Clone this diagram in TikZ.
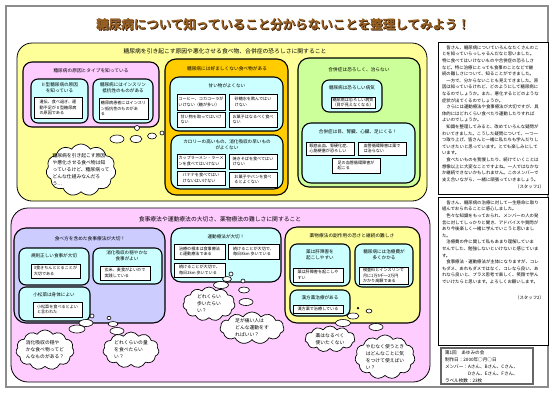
\documentclass[tikz,border=0pt]{standalone}
\usepackage{fontspec}
\setmainfont{Noto Sans CJK JP}
\newfontfamily\titlefont[FakeBold=3.5]{Noto Sans CJK JP}
\usetikzlibrary{shapes.symbols,shapes.geometric,shadows}
\definecolor{ylw}{RGB}{255,255,153}
\definecolor{pnk}{RGB}{255,204,255}
\definecolor{org}{RGB}{255,204,0}
\definecolor{grn}{RGB}{204,255,153}
\definecolor{cyn}{RGB}{204,255,255}
\definecolor{lav}{RGB}{204,204,255}
\definecolor{ttl}{RGB}{150,95,35}
\definecolor{ttlsh}{RGB}{55,28,5}
\newcommand\myfs[2]{\fontsize{#1}{#2}\selectfont}
\begin{document}
\begin{tikzpicture}[x=1pt,y=-1pt,
  base/.style={inner sep=0pt, outer sep=0pt},
  frame/.style={base, draw=black!45, line width=1.3pt, anchor=north west},
  region/.style={base, draw=black, line width=0.8pt, rounded corners=15pt, anchor=north west},
  grp/.style={base, draw=black, line width=1.1pt, rounded corners=9pt, anchor=north west},
  cbox/.style={grp, fill=cyn, rounded corners=7pt},
  wbox/.style={base, draw=black, line width=0.9pt, fill=white, anchor=north west,
     font=\myfs{4.1}{5.3}, align=left,
     drop shadow={shadow xshift=0.7pt, shadow yshift=-0.7pt, fill=black!45}},
  rtitle/.style={base, font=\myfs{5.8}{7}},
  gtitle/.style={base, font=\myfs{4.7}{6}},
  ctitle/.style={base, font=\myfs{4.6}{6.2}, align=center},
  cld/.style={base, cloud, cloud puffs=11, cloud puff arc=115, cloud ignores aspect,
     draw=black, fill=white, line width=0.7pt},
  ktext/.style={base, font=\myfs{4.8}{7}, align=left},
  bub/.style={base, ellipse, draw=black, fill=white, line width=0.6pt},
  rbox/.style={base, draw=black, line width=1pt, fill=white, anchor=north west},
  rtext/.style={base, font=\myfs{4.4}{6.6}, align=left, anchor=north west}
]
\useasboundingbox (0,0) rectangle (551,392);
\fill[white] (0,0) rectangle (551,392);
\node[frame, minimum width=542, minimum height=381] (frm) at (6,6) {};

% title
\node[base, font=\titlefont\myfs{12.5}{14}, text=ttlsh] (titleS) at (283.8,24.8) {糖尿病について知っていること分からないことを整理してみよう！};
\node[base, font=\titlefont\myfs{12.5}{14}, text=ttl] (title) at (283,24) {糖尿病について知っていること分からないことを整理してみよう！};

% ===== top region =====
\node[region, fill=ylw, minimum width=410, minimum height=158] (topR) at (17,43) {};
\node[rtitle] (topT) at (225,51) {糖尿病を引き起こす原因や悪化させる食べ物、合併症の恐ろしさに関すること};

% group A
\node[grp, fill=pnk, minimum width=136, minimum height=65] (gA) at (23,62) {};
\node[gtitle] (gAt) at (91,71) {糖尿病の原因とタイプを知っている};
\node[cbox, minimum width=57, minimum height=44] (cA1) at (31,79) {};
\node[ctitle] (cA1t) at (59.5,88) {Ⅱ型糖尿病の原因\\を知っている};
\node[wbox, minimum width=48, minimum height=21] (wA1) at (34,97) {遺伝、食べ過ぎ、運\\動不足がⅡ型糖尿病\\の原因である};
\node[cbox, minimum width=60, minimum height=44] (cA2) at (93,79) {};
\node[ctitle] (cA2t) at (123,88) {糖尿病にはインスリン\\抵抗性のものがある};
\node[wbox, minimum width=49, minimum height=21] (wA2) at (99,98) {糖尿病患者にはインスリ\\ン抵抗性のものがあ\\る};

% group B
\node[grp, fill=org, minimum width=123, minimum height=136, rounded corners=11pt] (gB) at (165,59) {};
\node[gtitle] (gBt) at (227,69) {糖尿病には好ましくない食べ物がある};
\node[cbox, minimum width=113, minimum height=54, rounded corners=9pt] (cB1) at (170,77) {};
\node[ctitle] (cB1t) at (227,86) {甘い物がよくない};
\node[wbox, minimum width=48, minimum height=16] (wB1) at (177,94) {コーヒー、コカコーラが\\いけない（糖が多い）};
\node[wbox, minimum width=48, minimum height=16] (wB2) at (229,94) {砂糖水を飲んではい\\けない};
\node[wbox, minimum width=48, minimum height=15] (wB3) at (177,112) {甘い物を取ってはいけ\\ない};
\node[wbox, minimum width=48, minimum height=15] (wB4) at (229,112) {お菓子はなるべく食べ\\ない};
\node[cbox, minimum width=112, minimum height=54, rounded corners=9pt] (cB2) at (171,135) {};
\node[ctitle] (cB2t) at (227,145) {カロリーの高いもの、消化吸収の早いもの\\がよくない};
\node[wbox, minimum width=48, minimum height=14] (wB5) at (177,154) {カップラーメン・ラーメ\\ンを食べてはいけない};
\node[wbox, minimum width=48, minimum height=15] (wB6) at (229,154) {焼きそばを食べてはい\\けない};
\node[wbox, minimum width=48, minimum height=14] (wB7) at (177,171) {バナナを食べてはい\\けないはいけない};
\node[wbox, minimum width=48, minimum height=15] (wB8) at (229,172) {お菓子やパンを食べ\\るとよくない};

% group C
\node[grp, fill=grn, minimum width=122, minimum height=129, rounded corners=11pt] (gC) at (298,58) {};
\node[gtitle] (gCt) at (359,70) {合併症は恐ろしく、治らない};
\node[cbox, minimum width=60, minimum height=32] (cC1) at (322,80) {};
\node[ctitle] (cC1t) at (352,88) {糖尿病は恐ろしい病気};
\node[wbox, minimum width=44, minimum height=11] (wC1) at (331,97) {糖尿病は恐ろしい病気\\（目が見えなくなる）};
\node[cbox, minimum width=113, minimum height=60, rounded corners=9pt] (cC2) at (302,123) {};
\node[ctitle] (cC2t) at (358,132) {合併症は目、腎臓、心臓、足にくる！};
\node[wbox, minimum width=48, minimum height=13] (wC2) at (306,142) {眼底出血、腎硬化症、\\心筋梗塞が恐ろしい};
\node[wbox, minimum width=48, minimum height=13] (wC3) at (358,142) {血管循環障害は薬で\\は治らない};
\node[wbox, minimum width=48, minimum height=15] (wC4) at (332,158) {足の血管循環障害が\\起こる};

% top thought cloud
\node[bub, minimum width=5, minimum height=5] (tb1) at (137,128) {};
\node[bub, minimum width=4, minimum height=4] (tb2) at (162,133) {};
\node[bub, minimum width=9, minimum height=6] (tb3) at (152,136) {};
\node[bub, minimum width=12, minimum height=7] (tb4) at (136,139) {};
\node[bub, minimum width=14, minimum height=8] (tb5) at (117,139) {};
\node[cld, minimum width=70, minimum height=52] (k1) at (81,170) {};
\node[ktext] (k1t) at (81,170) {糖尿病を引き起こす原因\\や悪化させる食べ物は知\\っているけど、糖尿病って\\どんな仕組みなんだろ\\う…};

% ===== bottom region =====
\node[region, fill=pnk, minimum width=419, minimum height=174, rounded corners=17pt] (botR) at (11,208) {};
\node[rtitle] (botT) at (220,219) {食事療法や運動療法の大切さ、薬物療法の難しさに関すること};

% group D
\node[grp, fill=lav, minimum width=151, minimum height=95, rounded corners=12pt] (gD) at (14,228) {};
\node[gtitle] (gDt) at (90,239) {食べ方を含めた食事療法が大切！};
\node[cbox, minimum width=70, minimum height=37] (cD1) at (19,248) {};
\node[ctitle] (cD1t) at (54,256) {規則正しい食事が大切};
\node[wbox, minimum width=49, minimum height=14] (wD1) at (31,264) {3食きちんととることが\\大切である};
\node[cbox, minimum width=69, minimum height=36] (cD2) at (93,248) {};
\node[ctitle] (cD2t) at (127,256) {消化吸収の穏やかな\\食事がよい};
\node[wbox, minimum width=50, minimum height=14] (wD2) at (100,266) {玄米、麦食がよいので\\実践している};
\node[cbox, minimum width=71, minimum height=34] (cD3) at (19,287) {};
\node[ctitle] (cD3t) at (54,295) {小松菜は身体によい};
\node[wbox, minimum width=49, minimum height=15] (wD3) at (33,302) {小松菜を食べるとよい\\と言われた};

\node[bub, minimum width=4, minimum height=4] (db1) at (92,316) {};
\node[bub, minimum width=14, minimum height=7] (db2) at (86,323) {};
\node[bub, minimum width=16, minimum height=8] (db3) at (77,329) {};
\node[bub, minimum width=4, minimum height=3.5] (db4) at (109,318) {};
\node[bub, minimum width=10, minimum height=5] (db5) at (113,324) {};
\node[bub, minimum width=14, minimum height=7] (db6) at (117,331) {};
\node[cld, minimum width=58, minimum height=40] (k2) at (45,350) {};
\node[ktext] (k2t) at (45,350) {消化吸収の穏や\\かな食べ物ってど\\んなものがある？};
\node[cld, minimum width=56, minimum height=36] (k3) at (131,350) {};
\node[ktext] (k3t) at (131,350) {どれくらいの量\\を食べたらい\\い？};

% group E
\node[cbox, minimum width=110, minimum height=54, rounded corners=10pt] (cE) at (171,228) {};
\node[ctitle] (cEt) at (226,237) {運動療法が大切！};
\node[wbox, minimum width=51, minimum height=15] (wE1) at (174,244) {治療の根本は食事療法\\と運動療法である};
\node[wbox, minimum width=51, minimum height=15] (wE2) at (228,244) {続けることが大切で、\\毎日8km 歩いている};
\node[wbox, minimum width=51, minimum height=14] (wE3) at (174,263) {続けることが大切で、\\毎日2km 歩いている};

\node[bub, minimum width=4, minimum height=4] (eb1) at (231,274) {};
\node[bub, minimum width=9, minimum height=5] (eb2) at (227,279) {};
\node[bub, minimum width=15, minimum height=7] (eb3) at (221,285) {};
\node[bub, minimum width=4, minimum height=4] (eb4) at (243,281) {};
\node[bub, minimum width=11, minimum height=6] (eb5) at (244,290) {};
\node[bub, minimum width=14, minimum height=7] (eb6) at (246,302) {};
\node[cld, minimum width=52, minimum height=34] (k4) at (209,304) {};
\node[ktext] (k4t) at (209,304) {どれくらい\\歩いたらい\\い？};
\node[cld, minimum width=64, minimum height=32] (k5) at (252,328) {};
\node[ktext] (k5t) at (252,328) {足が痛い人は\\どんな運動をす\\ればいい？};

% group F
\node[grp, fill=ylw, minimum width=135, minimum height=96, rounded corners=12pt] (gF) at (285,227) {};
\node[gtitle] (gFt) at (352,236) {薬物療法の副作用の恐さと継続の難しさ};
\node[cbox, minimum width=60, minimum height=42] (cF1) at (290,244) {};
\node[ctitle] (cF1t) at (320,255) {薬は肝障害を\\起こしやすい};
\node[wbox, minimum width=50, minimum height=14] (wF1) at (293,268) {薬は肝障害を起こしや\\すい};
\node[cbox, minimum width=58, minimum height=43] (cF2) at (355,244) {};
\node[ctitle] (cF2t) at (384,255) {糖尿病には治療費が\\多くかかる};
\node[wbox, minimum width=49, minimum height=17] (wF2) at (359,267) {検査料とインスリンで\\月に1万5千～2万円\\かかり高額である};
\node[cbox, minimum width=60, minimum height=26] (cF3) at (290,290) {};
\node[ctitle] (cF3t) at (320,298) {漢方薬治療がある};
\node[wbox, minimum width=50, minimum height=8] (wF3) at (293,305) {漢方薬で治療している};

\node[base, circle, fill=black, minimum size=2.5] (fb0) at (358,308) {};
\node[bub, minimum width=6, minimum height=4] (fb1) at (369,311) {};
\node[bub, minimum width=12, minimum height=6] (fb2) at (353,316) {};
\node[bub, minimum width=15, minimum height=7] (fb3) at (343,323) {};
\node[bub, minimum width=14, minimum height=7] (fb4) at (376,327) {};
\node[cld, minimum width=50, minimum height=26] (k6) at (330,339) {};
\node[ktext] (k6t) at (330,339) {薬はなるべく\\使いたくない};
\node[cld, minimum width=60, minimum height=44] (k7) at (385,357) {};
\node[ktext] (k7t) at (385,357) {やむなく使うとき\\はどんなことに気\\をつけて使えばい\\い？};

% ===== right column =====
\node[rbox, minimum width=110, minimum height=152] (r1) at (438,42) {};
\node[rtext] (r1t) at (442,45.5) {　皆さん、糖尿病についていろんなたくさんのこ\\とを知っていらっしゃるんだなと思いました。\\特に食べてはいけないものや合併症の恐ろしさ\\など。特に治療にとっても食事のことなどで継\\続の難しさについて、知ることができました。\\　一方で、分からないことも見えてきました。原\\因は知っているけれど、どのようにして糖尿病に\\なるのでしょうか。また、悪化するとどのような\\症状が出てくるのでしょうか。\\　さらには運動療法や食事療法が大切ですが、具\\体的にはどれくらい食べたり運動したりすれば\\よいのでしょうか。\\　知識を整理してみると、改めていろんな疑問が\\わいてきました。こうした疑問について、一つ一\\つ取り上げ、皆さんと一緒に私たちも学んだりし\\ていきたいと思っています。とても楽しみにして\\います。\\　食べたいものを我慢したり、続けていくことは\\想像以上に大変なことですよね。一人ではなかな\\か継続できないかもしれません。このメンバーで\\支え合いながら、一緒に頑張っていきましょう。};
\node[base, font=\myfs{4.4}{6.6}, anchor=base east] (r1s) at (544,188.5) {（スタッフ1）};

\node[rbox, minimum width=110, minimum height=148] (r2) at (438,197) {};
\node[rtext] (r2t) at (442,200.5) {　皆さん、糖尿病の治療に対して一生懸命に取り\\組んでおられることに感心しました。\\　色々な知識をもっておられ、メンバーの人の発\\言に対してしっかりと聞き、アドバイスや質問が\\あり今後楽しく一緒に学んでいこうと思いまし\\た。\\　治療費の件に関して私もあまり理解していま\\せんでした、勉強しないといけないと感じていま\\す。\\　食事療法・運動療法が主体になりますが、コレ\\もダメ、あれもダメではなく、コレなら良い、あ\\れなら良いと、プラス思考で楽しく、笑顔で学ん\\でいけたらと思います。よろしくお願いします。};
\node[base, font=\myfs{4.4}{6.6}, anchor=base east] (r2s) at (544,299) {（スタッフ2）};

\node[base, draw=black!60, line width=1.6pt, fill=white, anchor=north west, minimum width=92, minimum height=36] (r3) at (441,348) {};
\node[base, font=\myfs{4.6}{7}, align=left, anchor=north west] (r3t) at (445,351) {第1回　あゆみの会\\制作日：2000年○月○日\\メンバー：Aさん、Bさん、Cさん、\\　　　　　Dさん、Eさん、Fさん、\\ラベル枚数：23枚};
\end{tikzpicture}
\end{document}
